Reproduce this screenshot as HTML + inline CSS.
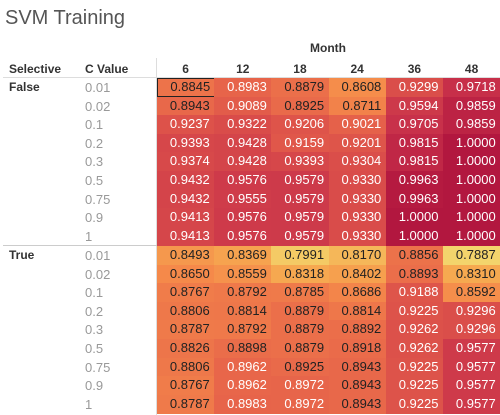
<!DOCTYPE html>
<html><head><meta charset="utf-8"><style>
body{margin:0;width:500px;height:415px;overflow:hidden;background:#fff;font-family:"Liberation Sans",sans-serif;}
#root{position:relative;width:500px;height:415px;}
.t{position:absolute;white-space:nowrap;}
.cell{position:absolute;box-sizing:border-box;font-size:13px;text-align:right;padding-right:5px;}
</style></head><body>
<div id="root">
<div class="t" style="left:5px;top:7px;font-size:20px;color:#555;">SVM Training</div>
<div class="t" style="left:310px;top:41px;font-size:12px;font-weight:bold;color:#333;">Month</div>
<div class="t" style="left:9px;top:62px;font-size:12px;font-weight:bold;color:#333;">Selective</div>
<div class="t" style="left:85px;top:62px;font-size:12px;font-weight:bold;color:#333;">C Value</div>
<div style="position:absolute;left:3px;top:77px;width:497px;height:1px;background:#ddd"></div>
<div style="position:absolute;left:156px;top:58px;width:1px;height:357px;background:#ddd"></div>
<div style="position:absolute;left:3px;top:245px;width:154px;height:1px;background:#ccc"></div>
<div id="cells"></div>
</div>
<script>
const months=["6","12","18","24","36","48"];
const groups=["False","True"];
const cvalues=["0.01","0.02","0.1","0.2","0.3","0.5","0.75","0.9","1"];
const falseVals=[
[0.8845,0.8983,0.8879,0.8608,0.9299,0.9718],
[0.8943,0.9089,0.8925,0.8711,0.9594,0.9859],
[0.9237,0.9322,0.9206,0.9021,0.9705,0.9859],
[0.9393,0.9428,0.9159,0.9201,0.9815,1.0000],
[0.9374,0.9428,0.9393,0.9304,0.9815,1.0000],
[0.9432,0.9576,0.9579,0.9330,0.9963,1.0000],
[0.9432,0.9555,0.9579,0.9330,0.9963,1.0000],
[0.9413,0.9576,0.9579,0.9330,1.0000,1.0000],
[0.9413,0.9576,0.9579,0.9330,1.0000,1.0000]];
const trueVals=[
[0.8493,0.8369,0.7991,0.8170,0.8856,0.7887],
[0.8650,0.8559,0.8318,0.8402,0.8893,0.8310],
[0.8767,0.8792,0.8785,0.8686,0.9188,0.8592],
[0.8806,0.8814,0.8879,0.8814,0.9225,0.9296],
[0.8787,0.8792,0.8879,0.8892,0.9262,0.9296],
[0.8826,0.8898,0.8879,0.8918,0.9262,0.9577],
[0.8806,0.8962,0.8925,0.8943,0.9225,0.9577],
[0.8767,0.8962,0.8972,0.8943,0.9225,0.9577],
[0.8787,0.8983,0.8972,0.8943,0.9225,0.9577]];
const stops=[[0.788,[243,213,108]],[0.83,[246,170,80]],[0.865,[245,137,74]],[0.90,[230,98,74]],[0.93,[218,78,74]],[0.97,[200,49,74]],[1.0,[178,23,63]]];
function color(v){for(let i=1;i<stops.length;i++){if(v<=stops[i][0]){const a=stops[i-1],b=stops[i];const t=Math.max(0,(v-a[0])/(b[0]-a[0]));return 'rgb('+a[1].map((c,k)=>Math.round(c+(b[1][k]-c)*t)).join(',')+')';}}return 'rgb(178,23,63)';}
const x0=157,cw=57.2,rh=18.6;
function colX(i){return x0+i*cw;}
function rowY(g,r){return g===0?78+r*rh:246+r*rh;}
const root=document.getElementById('cells');
months.forEach((m,i)=>{const d=document.createElement('div');d.className='t';


d.style.cssText='top:62px;font-size:12px;font-weight:bold;color:#333;width:'+cw+'px;text-align:center;left:'+colX(i)+'px';d.textContent=m;root.appendChild(d);});
[falseVals,trueVals].forEach((vals,g)=>{
const gl=document.createElement('div');gl.className='t';


gl.style.cssText='left:9px;font-size:12px;font-weight:bold;color:#333;top:'+(rowY(g,0)+2)+'px';gl.textContent=groups[g];root.appendChild(gl);
cvalues.forEach((c,r)=>{
const cl=document.createElement('div');cl.className='t';


cl.style.cssText='left:85px;font-size:13px;color:#999;top:'+(rowY(g,r)+2)+'px';cl.textContent=c;root.appendChild(cl);
vals[r].forEach((v,i)=>{const d=document.createElement('div');d.className='cell';


const y=rowY(g,r);
d.style.left=colX(i)+'px';d.style.top=y+'px';d.style.width=(cw+0.5)+'px';d.style.height=(rh+0.5)+'px';d.style.lineHeight=rh+'px';
d.style.background=color(v);d.style.color=v>0.895?'#fff':'#222';
if(g===0&&r===0&&i===0){d.style.border='1.5px solid #222';d.style.lineHeight=(rh-3)+'px';d.style.paddingRight='3.5px';}
d.textContent=v.toFixed(4);root.appendChild(d);});
});});
</script>
</body></html>
